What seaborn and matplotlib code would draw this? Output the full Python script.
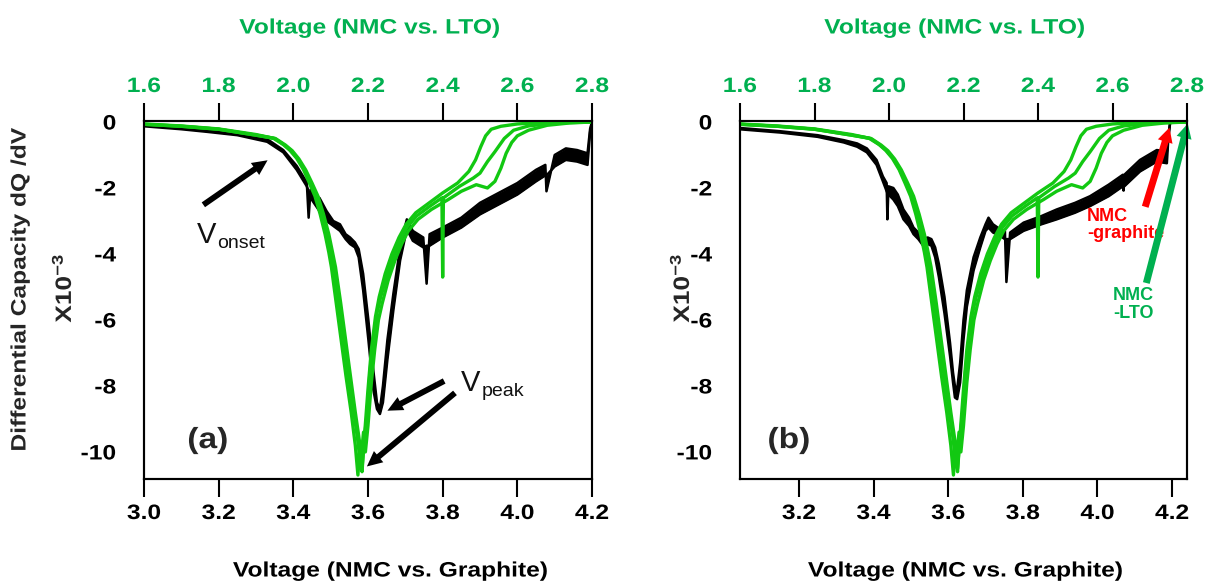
import matplotlib
matplotlib.use("Agg")
import matplotlib.pyplot as plt
import seaborn as sns
from matplotlib.patheffects import AbstractPathEffect
from matplotlib.transforms import Affine2D

# ---------------------------------------------------------------------------
# Data (dQ/dV in units of 1e-3)
# ---------------------------------------------------------------------------
# NMC vs. LTO, three cycles (voltage on the LTO scale)
lto_c1_v = [1.600, 1.700, 1.800, 1.900, 1.946, 1.973, 1.991, 2.009, 2.027, 2.043, 2.058, 2.072, 2.085,
            2.095, 2.102, 2.115, 2.128, 2.141, 2.155, 2.166, 2.173, 2.178, 2.184, 2.192, 2.200, 2.209,
            2.220, 2.230, 2.246, 2.264, 2.283, 2.302, 2.328, 2.364, 2.400, 2.440, 2.470, 2.488, 2.502,
            2.515, 2.530, 2.556, 2.600, 2.660, 2.800]
lto_c1_q = [-0.06, -0.12, -0.21, -0.38, -0.49, -0.68, -0.86, -1.10, -1.44, -1.85, -2.25, -2.80, -3.40,
            -3.95, -4.40, -5.50, -6.60, -7.70, -8.80, -9.80, -10.7, -9.90, -10.5, -9.30, -8.10, -6.90,
            -5.90, -5.30, -4.60, -4.00, -3.50, -3.10, -2.75, -2.45, -2.15, -1.85, -1.50, -1.15, -0.75,
            -0.42, -0.22, -0.13, -0.06, -0.02, 0.00]

lto_c2_v = [1.600, 1.700, 1.800, 1.900, 1.950, 1.976, 1.994, 2.012, 2.030, 2.047, 2.062, 2.077, 2.091,
            2.101, 2.109, 2.122, 2.135, 2.148, 2.162, 2.172, 2.179, 2.184, 2.190, 2.197, 2.205, 2.214,
            2.224, 2.234, 2.250, 2.268, 2.286, 2.304, 2.330, 2.366, 2.398, 2.400, 2.402, 2.445, 2.482,
            2.500, 2.520, 2.540, 2.565, 2.590, 2.630, 2.700, 2.800]
lto_c2_q = [-0.07, -0.13, -0.22, -0.40, -0.50, -0.70, -0.87, -1.12, -1.45, -1.85, -2.25, -2.80, -3.40,
            -3.95, -4.40, -5.50, -6.60, -7.70, -8.80, -9.60, -10.3, -10.6, -9.60, -8.90, -7.60, -6.60,
            -5.80, -5.30, -4.70, -4.10, -3.60, -3.20, -2.85, -2.55, -2.30, -4.70, -2.30, -1.95, -1.70,
            -1.55, -1.20, -0.90, -0.50, -0.25, -0.12, -0.03, 0.00]

lto_c3_v = [1.600, 1.700, 1.800, 1.900, 1.952, 1.979, 1.997, 2.015, 2.033, 2.050, 2.066, 2.081, 2.095,
            2.105, 2.113, 2.127, 2.140, 2.153, 2.166, 2.175, 2.182, 2.188, 2.193, 2.200, 2.209, 2.218,
            2.228, 2.238, 2.254, 2.272, 2.290, 2.308, 2.334, 2.370, 2.415, 2.450, 2.490, 2.520, 2.540,
            2.556, 2.570, 2.585, 2.600, 2.630, 2.680, 2.740, 2.800]
lto_c3_q = [-0.07, -0.13, -0.22, -0.40, -0.50, -0.70, -0.87, -1.12, -1.45, -1.85, -2.25, -2.80, -3.40,
            -3.95, -4.40, -5.50, -6.60, -7.70, -8.80, -9.50, -10.1, -9.40, -10.0, -9.20, -7.90, -6.90,
            -6.00, -5.50, -4.80, -4.20, -3.70, -3.30, -2.95, -2.65, -2.35, -2.10, -1.90, -2.00, -1.80,
            -1.40, -0.95, -0.62, -0.42, -0.25, -0.10, -0.03, 0.00]

# NMC vs. graphite, panel (a): two cycles on a shared voltage grid
gra_a_v = [3.000, 3.100, 3.170, 3.250, 3.330, 3.373, 3.409, 3.436, 3.441, 3.446, 3.458, 3.470, 3.489,
           3.507, 3.525, 3.540, 3.552, 3.565, 3.575, 3.587, 3.601, 3.614, 3.624, 3.632, 3.640, 3.652,
           3.668, 3.686, 3.704, 3.720, 3.748, 3.757, 3.765, 3.800, 3.850, 3.900, 3.950, 4.000, 4.050,
           4.075, 4.078, 4.100, 4.130, 4.160, 4.188, 4.195, 4.200]
gra_a_c1 = [-0.10, -0.18, -0.25, -0.35, -0.52, -0.85, -1.33, -1.83, -2.90, -2.05, -2.25, -2.30, -2.70,
            -3.00, -3.10, -3.40, -3.50, -3.65, -3.85, -4.60, -6.00, -7.50, -8.50, -8.70, -8.00, -6.60,
            -5.20, -3.80, -2.95, -3.30, -3.50, -4.90, -3.40, -3.20, -2.90, -2.45, -2.15, -1.85, -1.45,
            -1.30, -2.10, -1.00, -0.80, -0.85, -0.95, -0.20, 0.00]
gra_a_c2 = [-0.13, -0.22, -0.30, -0.40, -0.60, -0.92, -1.45, -1.95, -2.10, -2.30, -2.50, -2.70, -3.00,
            -3.15, -3.30, -3.55, -3.70, -3.80, -4.10, -5.10, -6.60, -8.10, -8.70, -8.85, -8.50, -7.20,
            -5.70, -4.20, -3.25, -3.60, -3.80, -3.75, -3.75, -3.50, -3.20, -2.80, -2.50, -2.20, -1.80,
            -1.62, -1.62, -1.35, -1.15, -1.20, -1.30, -0.30, 0.00]

# NMC vs. graphite, panel (b): two cycles on a shared voltage grid
gra_b_v = [3.040, 3.150, 3.250, 3.320, 3.356, 3.382, 3.408, 3.425, 3.435, 3.437, 3.440, 3.453, 3.465,
           3.480, 3.495, 3.507, 3.520, 3.533, 3.545, 3.555, 3.565, 3.575, 3.590, 3.605, 3.613, 3.618,
           3.624, 3.632, 3.641, 3.650, 3.668, 3.686, 3.700, 3.708, 3.720, 3.739, 3.752, 3.756, 3.766,
           3.802, 3.850, 3.891, 3.940, 3.980, 4.030, 4.068, 4.070, 4.072, 4.114, 4.159, 4.186, 4.190,
           4.195]
gra_b_c1 = [-0.18, -0.28, -0.40, -0.55, -0.65, -0.80, -1.15, -1.65, -1.85, -2.95, -1.95, -2.00, -2.20,
            -2.65, -2.90, -3.20, -3.35, -3.55, -3.50, -3.55, -3.80, -4.30, -5.30, -6.70, -7.60, -8.00,
            -8.10, -7.30, -6.00, -5.10, -4.10, -3.50, -3.10, -2.90, -3.10, -3.25, -3.30, -4.85, -3.35,
            -3.05, -2.85, -2.65, -2.45, -2.25, -1.90, -1.60, -2.08, -1.60, -1.15, -0.85, -0.90, -0.40,
            0.00]
gra_b_c2 = [-0.22, -0.32, -0.45, -0.62, -0.75, -0.92, -1.30, -1.80, -2.10, -2.15, -2.20, -2.35, -2.55,
            -2.95, -3.15, -3.40, -3.55, -3.75, -3.70, -3.75, -4.10, -4.70, -5.80, -7.10, -7.90, -8.35,
            -8.40, -7.90, -6.60, -5.60, -4.50, -3.80, -3.30, -3.20, -3.35, -3.45, -3.55, -3.55, -3.55,
            -3.30, -3.10, -2.95, -2.75, -2.55, -2.25, -1.95, -1.95, -1.95, -1.50, -1.20, -1.25, -0.50,
            0.00]

# Axis ticks
graphite_ticks_a = [3.0, 3.2, 3.4, 3.6, 3.8, 4.0, 4.2]
graphite_ticks_b = [3.2, 3.4, 3.6, 3.8, 4.0, 4.2]
lto_ticks = [1.6, 1.8, 2.0, 2.2, 2.4, 2.6, 2.8]
dqdv_ticks = [0, -2, -4, -6, -8, -10]

# ---------------------------------------------------------------------------
# Style
# ---------------------------------------------------------------------------
sns.set_theme(style="white")
plt.rcParams["font.family"] = ["Liberation Sans", "DejaVu Sans"]
plt.rcParams["font.weight"] = "bold"
plt.rcParams["axes.unicode_minus"] = False
plt.rcParams["mathtext.fontset"] = "custom"
plt.rcParams["mathtext.rm"] = "Liberation Sans"
plt.rcParams["mathtext.bf"] = "Liberation Sans:bold"
plt.rcParams["mathtext.it"] = "Liberation Sans:italic"

GREEN_LINE = "#12c812"
GREEN_TEXT = "#00b050"
RED = "#ff0000"
W, H = 1208, 586


class WideText(AbstractPathEffect):
    """Draw text glyphs stretched horizontally about an anchor."""

    def __init__(self, sx=1.18, anchor="center"):
        super().__init__()
        self._sx = sx
        self._anchor = anchor

    def draw_path(self, renderer, gc, tpath, affine, rgbFace=None):
        ext = tpath.get_extents()
        if self._anchor == "left":
            p = 0.0
        elif self._anchor == "right":
            p = ext.x1
        else:
            p = 0.5 * (ext.x0 + ext.x1)
        pre = Affine2D().translate(-p, 0).scale(self._sx, 1.0).translate(p, 0)
        renderer.draw_path(gc, tpath, pre + affine, rgbFace)


fig = plt.figure(figsize=(W / 100, H / 100), dpi=100)
fig.patch.set_facecolor("white")


def fig_box(left_px, right_px, top_px=121, bottom_px=479):
    return [left_px / W, 1 - bottom_px / H, (right_px - left_px) / W, (bottom_px - top_px) / H]


def draw_panel(ax, gv, gc1, gc2, xlim, xticks, lto_xlim):
    ax.fill_between(gv, gc2, gc1, color="black", linewidth=0)
    for q in (gc1, gc2):
        sns.lineplot(x=gv, y=q, ax=ax, color="black", lw=1.8, sort=False, estimator=None)
    ax.set_xlim(*xlim)
    ax.set_ylim(-10.82, 0.03)
    ax.set_xticks(xticks, labels=[f"{t:.1f}" for t in xticks])
    ax.set_yticks(dqdv_ticks, labels=[str(t) for t in dqdv_ticks])
    ax.set_xlabel("")
    ax.set_ylabel("")
    ax.tick_params(axis="both", direction="out", length=13, width=1.5, labelsize=15,
                   colors="black", top=False, right=False)
    ax.tick_params(axis="x", pad=5)
    ax.tick_params(axis="y", pad=7)
    for lbl in ax.get_xticklabels():
        lbl.set_path_effects([WideText(1.18, "center")])
    for lbl in ax.get_yticklabels():
        lbl.set_path_effects([WideText(1.18, "right")])

    top = ax.twiny()
    for v, q in ((lto_c1_v, lto_c1_q), (lto_c2_v, lto_c2_q), (lto_c3_v, lto_c3_q)):
        sns.lineplot(x=v, y=q, ax=top, color=GREEN_LINE, lw=2.4, sort=False, estimator=None)
    top.set_xlim(*lto_xlim)
    top.set_ylim(-10.82, 0.03)
    top.set_xticks(lto_ticks, labels=[f"{t:.1f}" for t in lto_ticks])
    top.set_xlabel("")
    top.tick_params(axis="x", direction="out", length=13, width=1.5, labelsize=15,
                    colors="black", labelcolor=GREEN_TEXT, pad=5, bottom=False)
    for lbl in top.get_xticklabels():
        lbl.set_path_effects([WideText(1.18, "center")])

    for a in (ax, top):
        for s in a.spines.values():
            s.set_linewidth(1.5)
            s.set_color("black")
    return top


def arrow(ax, tail, head, color, scale=10, tw=0.42, hw=1.05, hl=1.1):
    ax.annotate("", xy=head, xytext=tail, annotation_clip=False,
                arrowprops=dict(arrowstyle=f"simple,head_length={hl},head_width={hw},tail_width={tw}",
                                mutation_scale=scale, color=color, shrinkA=0, shrinkB=0, lw=0))


# Panel (a)
ax_a = fig.add_axes(fig_box(144, 592))
draw_panel(ax_a, gra_a_v, gra_a_c1, gra_a_c2, (3.0, 4.2), graphite_ticks_a, (1.6, 2.8))

ax_a.text(3.142, -3.66, "V", fontsize=21, fontweight="normal", color="#111111", va="baseline")
ax_a.text(3.196, -3.81, "onset", fontsize=14, fontweight="normal", color="#111111", va="baseline")
arrow(ax_a, (3.159, -2.51), (3.331, -1.16), "black")

ax_a.text(3.849, -8.16, "V", fontsize=21, fontweight="normal", color="#111111", va="baseline")
ax_a.text(3.905, -8.31, "peak", fontsize=14, fontweight="normal", color="#111111", va="baseline")
arrow(ax_a, (3.804, -7.85), (3.652, -8.75), "black")
arrow(ax_a, (3.833, -8.21), (3.597, -10.44), "black")

ax_a.text(3.171, -9.64, "(a)", fontsize=21, ha="center", va="center",
          path_effects=[WideText(1.15, "center")])

# Panel (b)
ax_b = fig.add_axes(fig_box(740, 1187))
draw_panel(ax_b, gra_b_v, gra_b_c1, gra_b_c2, (3.042, 4.24), graphite_ticks_b, (1.6, 2.8))

ax_b.text(3.173, -9.64, "(b)", fontsize=21, ha="center", va="center",
          path_effects=[WideText(1.15, "center")])
arrow(ax_b, (4.128, -2.57), (4.193, -0.17), RED, tw=0.5, hw=1.1, hl=1.05)
ax_b.text(3.972, -2.99, "NMC", fontsize=13, color=RED, va="baseline")
ax_b.text(3.972, -3.53, "-graphite", fontsize=13, color=RED, va="baseline")
arrow(ax_b, (4.131, -4.88), (4.242, -0.05), GREEN_TEXT, tw=0.5, hw=1.1, hl=1.05)
ax_b.text(4.042, -5.41, "NMC", fontsize=13, color=GREEN_TEXT, va="baseline")
ax_b.text(4.042, -5.95, "-LTO", fontsize=13, color=GREEN_TEXT, va="baseline")

# Axis titles
for cx in (370, 955):
    fig.text(cx / W, 1 - 28 / H, "Voltage (NMC vs. LTO)", fontsize=15, color=GREEN_TEXT,
             ha="center", va="center", path_effects=[WideText(1.18, "center")])
for cx in (391, 966):
    fig.text(cx / W, 1 - 571 / H, "Voltage (NMC vs. Graphite)", fontsize=15, color="black",
             ha="center", va="center", path_effects=[WideText(1.18, "center")])
fig.text(20 / W, 1 - 289 / H, "Differential Capacity dQ /dV", fontsize=15, rotation=90,
         ha="center", va="center", path_effects=[WideText(1.18, "center")])
for cx in (63, 681):
    fig.text(cx / W, 1 - 288 / H, r"X10$^{\mathbf{-3}}$", fontsize=16, rotation=90,
             ha="center", va="center", path_effects=[WideText(1.18, "center")])

fig.savefig("out.png", dpi=100, facecolor="white")
